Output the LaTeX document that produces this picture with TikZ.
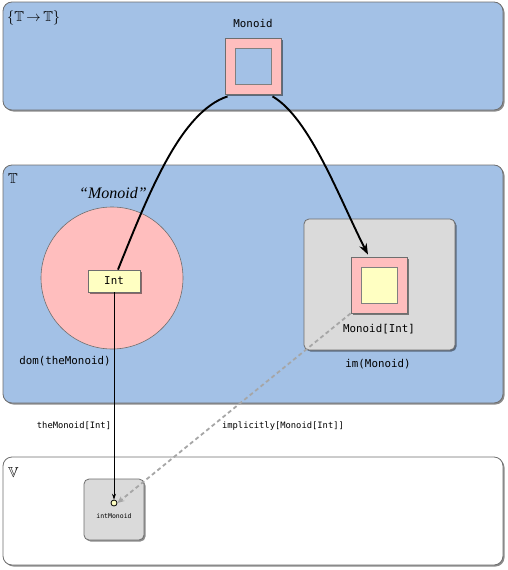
\documentclass[tikz,border=0pt]{standalone}
\usepackage{fontspec}
\usepackage{amssymb}
\setmonofont{DejaVu Sans Mono}
\newfontfamily\serifit{Liberation Serif}
\usetikzlibrary{shadows,arrows.meta,calc}
\definecolor{bluefill}{RGB}{163,193,230}
\definecolor{pinkfill}{RGB}{255,190,190}
\definecolor{grayfill}{RGB}{218,218,218}
\definecolor{yellowfill}{RGB}{255,255,194}
\definecolor{edgegray}{RGB}{110,110,110}
\tikzset{
  shad/.style={drop shadow={shadow xshift=1.5pt,shadow yshift=-1.5pt,fill=black,opacity=0.45}},
  region/.style={draw=edgegray,line width=0.8pt,rounded corners=9pt,shad,inner sep=0pt},
  graybox/.style={draw=edgegray,fill=grayfill,line width=0.8pt,rounded corners=5pt,shad,inner sep=0pt},
  pinksq/.style={draw=edgegray,fill=pinkfill,line width=0.8pt,shad,inner sep=0pt,minimum width=56,minimum height=56},
  innersq/.style={draw=gray,line width=0.8pt,inner sep=0pt,minimum width=36,minimum height=36},
  mono/.style={font=\ttfamily\fontsize{10.8}{12}\selectfont,inner sep=0pt},
  monosmall/.style={font=\ttfamily\fontsize{8.8}{10}\selectfont,inner sep=0pt},
  setlabel/.style={font=\fontsize{14.5}{16}\selectfont,inner sep=0pt,anchor=west},
  thick curve/.style={line width=1.9pt,-{Stealth[length=11pt,width=8pt]}},
  thin arrow/.style={line width=0.7pt,-{Stealth[length=6pt,width=4pt]}},
  implic/.style={draw=gray!70,line width=1.8pt,dash pattern=on 4pt off 3pt,-{Stealth[length=7pt,width=6pt]}}
}
\begin{document}
\begin{tikzpicture}[x=1pt,y=-1pt]
\useasboundingbox (0,0) rectangle (507,570);
% regions
\node[region,fill=bluefill,minimum width=500,minimum height=108] (top) at (253,56) {};
\node[region,fill=bluefill,minimum width=500,minimum height=238] (mid) at (253,284) {};
\node[region,fill=white,minimum width=500,minimum height=108] (bot) at (253,511) {};
\node[setlabel] (toplab) at (7,18) {$\{\mathbb{T}\mkern-2mu\rightarrow\mkern-2mu\mathbb{T}\}$};
\node[setlabel] (midlab) at (8,179) {$\mathbb{T}$};
\node[setlabel] (botlab) at (8,472) {$\mathbb{V}$};
% top Monoid
\node[mono] (monlab) at (253,23) {Monoid};
\node[pinksq] (mon) at (253.5,66) {};
\node[innersq,fill=bluefill] (monin) at (253.5,66) {};
% domain
\node[font=\serifit\itshape\fontsize{16}{18}\selectfont,inner sep=0pt] (quote) at (113,193) {“Monoid”};
\node[circle,draw=edgegray,fill=pinkfill,line width=0.6pt,minimum size=142,inner sep=0pt] (dom) at (112,278) {};
\node[draw=edgegray,fill=yellowfill,line width=0.8pt,shad,minimum width=52,minimum height=22,inner sep=0pt,mono] (int) at (114,281) {Int};
\node[mono] (domlab) at (65,361) {dom(theMonoid)};
% image
\node[graybox,minimum width=151,minimum height=131] (im) at (379.5,284.5) {};
\node[pinksq] (mi) at (379,285) {};
\node[innersq,fill=yellowfill] (miin) at (379,285) {};
\node[mono] (milab) at (379,329) {Monoid[Int]};
\node[mono] (imlab) at (378,364) {im(Monoid)};
% value
\node[graybox,minimum width=60,minimum height=61] (vbox) at (114,509.5) {};
\node[circle,draw=black,fill=yellowfill,line width=0.8pt,minimum size=6,inner sep=0pt] (iv) at (114,503) {};
\node[font=\ttfamily\fontsize{6.5}{7}\selectfont,inner sep=0pt] (ivlab) at (114,516) {intMonoid};
% connectors
\draw[line width=1.9pt] ($(int.north)+(4,0)$) .. controls (150,190) and (181,112) .. ($(mon.south)+(-26,2)$);
\draw[thick curve] ($(mon.south)+(19,2)$) .. controls (310,118) and (340,200) .. ($(mi.north)+(-11,-2)$);
\draw[thin arrow] (int.south) -- (iv.north);
\draw[implic] (mi.south west) -- (iv.east);
\node[monosmall] (tmlab) at (74,426) {theMonoid[Int]};
\node[monosmall] (impl) at (283,426) {implicitly[Monoid[Int]]};
\end{tikzpicture}
\end{document}
